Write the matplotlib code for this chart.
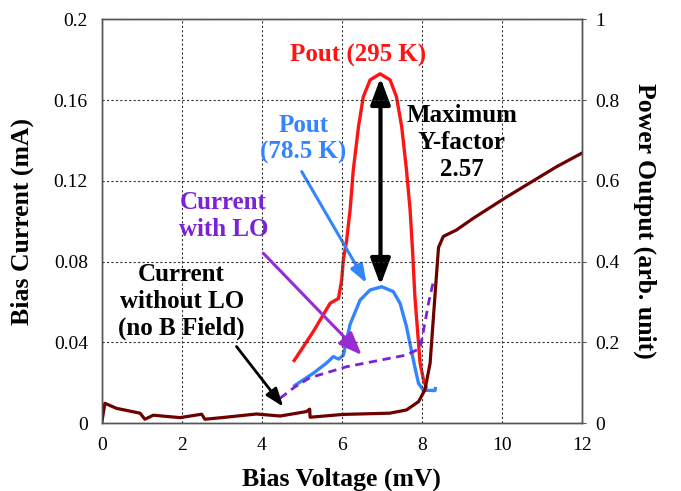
# I-V and IF output power curves of the mixer (hot/cold load)

import numpy as np
import matplotlib
matplotlib.use('Agg')
import matplotlib.pyplot as plt

# Current without LO (no B field): bias voltage (mV), current (mA)
v_nolo = [0, 0.08, 0.37, 0.96, 1.08, 1.29, 1.96, 2.5, 2.58, 3.0, 3.87, 4.46, 5.12, 5.2, 5.21,
          6.04, 7.2, 7.62, 7.92, 8.08, 8.21, 8.33, 8.42, 8.54, 8.87, 9.29, 10.12, 11.37, 12.0]
i_nolo = [0, 0.0099, 0.0074, 0.005, 0.002, 0.004, 0.0028, 0.0045, 0.002, 0.0028, 0.0046, 0.0036, 0.0058, 0.007, 0.003,
          0.0044, 0.005, 0.0066, 0.0107, 0.0165, 0.0297, 0.0627, 0.087, 0.0925, 0.0957, 0.1015, 0.112, 0.127, 0.1337]

# Current with LO (mA)
v_lo = [4.46, 4.83, 5.2, 6.12, 7.62, 7.96, 8.04, 8.17, 8.29]
i_lo = [0.0124, 0.018, 0.0225, 0.028, 0.0338, 0.0371, 0.0453, 0.0594, 0.0701]

# Output power, 295 K load (arb. unit)
v_hot = [4.79, 5.29, 5.71, 5.92, 6.0, 6.04, 6.12, 6.21, 6.29, 6.42, 6.54, 6.71, 6.96, 7.21, 7.37,
         7.5, 7.62, 7.71, 7.77, 7.83, 7.96, 8.04, 8.12]
p_hot = [0.152, 0.227, 0.297, 0.309, 0.355, 0.404, 0.45, 0.528, 0.627, 0.734, 0.808, 0.85, 0.865, 0.85, 0.808,
         0.734, 0.627, 0.528, 0.43, 0.313, 0.149, 0.11, 0.087]

# Output power, 78.5 K load (arb. unit)
v_cold = [4.79, 5.29, 5.62, 5.79, 5.92, 6.04, 6.12, 6.21, 6.46, 6.71, 7.0, 7.29, 7.46, 7.62, 7.79, 7.92,
          8.04, 8.33, 8.35]
p_cold = [0.091, 0.124, 0.149, 0.165, 0.159, 0.168, 0.205, 0.245, 0.305, 0.33, 0.338, 0.326, 0.297, 0.239, 0.157, 0.099,
          0.082, 0.081, 0.09]

plt.rcParams['font.family'] = ['Liberation Serif', 'DejaVu Serif']

fig = plt.figure(figsize=(6.81, 4.91), dpi=100)
ax = fig.add_axes([0.1493, 0.1379, 0.7049, 0.8228])
ax2 = ax.twinx()

c_dark = '#6e0000'
c_red = '#ff1414'
c_blue = '#3385ff'
c_purple = '#7a22d6'

ax2.plot(v_cold, p_cold, color=c_blue, lw=2.4, solid_capstyle='butt', solid_joinstyle='round')
ax2.plot(v_hot, p_hot, color=c_red, lw=2.4, solid_capstyle='butt', solid_joinstyle='round')
ax.plot(v_lo, i_lo, color=c_purple, lw=2.0, ls=(0, (3, 2)))
ax.plot(v_nolo, i_nolo, color=c_dark, lw=2.3, solid_joinstyle='round')

ax.set_zorder(ax2.get_zorder() + 1)
ax.patch.set_visible(False)

ax.set_xlim(0, 12)
ax.set_ylim(0, 0.2)
ax2.set_ylim(0, 1)
ax.set_xticks([0, 2, 4, 6, 8, 10, 12])
ax.set_yticks([0, 0.04, 0.08, 0.12, 0.16, 0.2])
ax.set_yticklabels(['0', '0.04', '0.08', '0.12', '0.16', '0.2'])
ax2.set_yticks([0, 0.2, 0.4, 0.6, 0.8, 1])
ax2.set_yticklabels(['0', '0.2', '0.4', '0.6', '0.8', '1'])

ax.grid(True, ls=(0, (2, 2)), color='#333333', lw=0.8)
ax.tick_params(axis='both', length=0, labelsize=14, pad=10)
ax2.tick_params(axis='y', length=3, direction='out', labelsize=14, pad=7, color='#555555')
for a in (ax, ax2):
    for s in a.spines.values():
        s.set_color('#555555')
        s.set_linewidth(1.0)

ax.set_xlabel('Bias Voltage (mV)', fontsize=18.5, fontweight='bold', labelpad=10)
ax.set_ylabel('Bias Current (mA)', fontsize=18.5, fontweight='bold', labelpad=14)
ax2.set_ylabel('Power Output (arb. unit)', fontsize=18.5, fontweight='bold', rotation=270,
               labelpad=26)

# Arrows
ax2.annotate('', xy=(6.97, 0.855), xytext=(6.97, 0.342),
             arrowprops=dict(arrowstyle='<|-|>,head_length=1.6,head_width=0.6', lw=3, color='black',
                             shrinkA=0, shrinkB=0, mutation_scale=10))
ax2.annotate('', xy=(6.62, 0.347), xytext=(5.0, 0.623),
             arrowprops=dict(arrowstyle='-|>,head_length=1.1,head_width=0.4', lw=2.2, color=c_blue,
                             shrinkA=0, shrinkB=0, mutation_scale=10))
ax.annotate('', xy=(6.5, 0.0338), xytext=(4.04, 0.0842),
            arrowprops=dict(arrowstyle='-|>,head_length=1.4,head_width=0.55', lw=2.2, color='#9a2bd2',
                            shrinkA=0, shrinkB=0, mutation_scale=10))
ax.annotate('', xy=(4.54, 0.0082), xytext=(3.37, 0.038),
            arrowprops=dict(arrowstyle='-|>,head_length=1.1,head_width=0.4', lw=2.0, color='black',
                            shrinkA=0, shrinkB=0, mutation_scale=10))

# Labels
tkw = dict(fontsize=18, fontweight='bold', ha='center', va='center', multialignment='center')
ax.text(6.41, 0.1823, 'Pout (295 K)', color=c_red, **tkw)
ax.text(5.04, 0.1407, 'Pout\n(78.5 K)', color=c_blue, **tkw)
ax.text(9.0, 0.139, 'Maximum\nY-factor\n2.57', color='black', **tkw)
ax.text(3.04, 0.1027, 'Current\nwith LO', color=c_purple, **tkw)
ax.text(2.0, 0.0602, 'Current\nwithout LO\n(no B Field)', color='black', **tkw)

plt.savefig('out.png', dpi=100)
